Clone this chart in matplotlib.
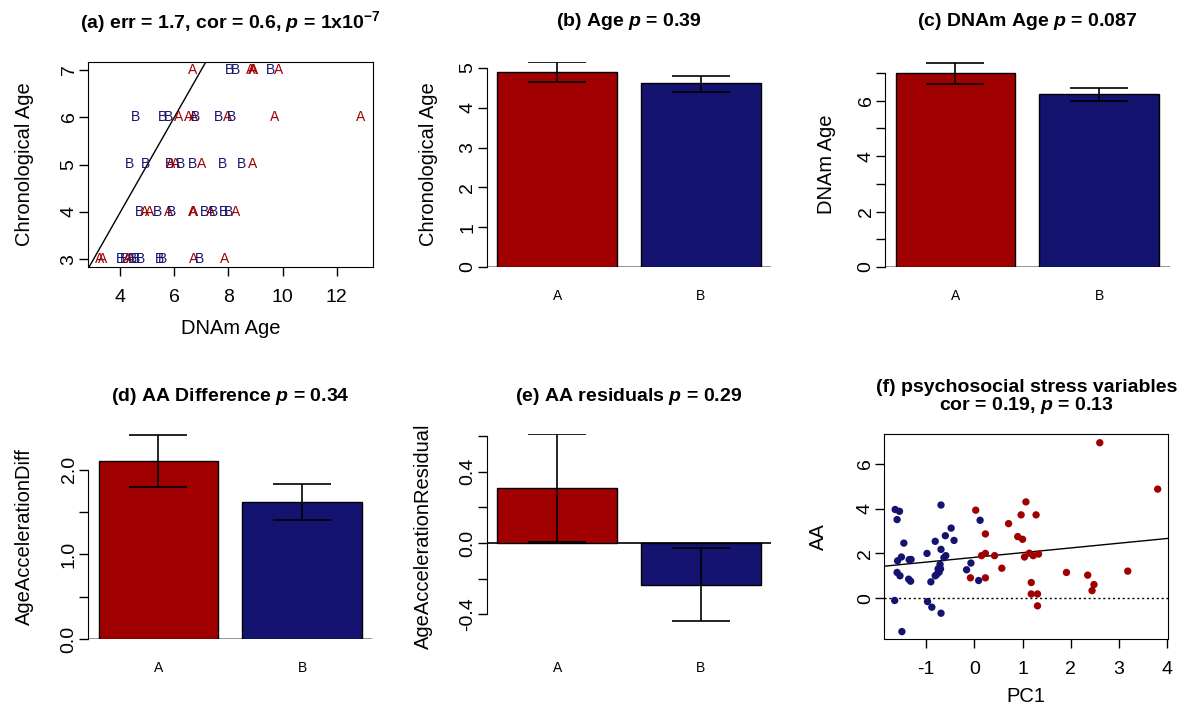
import matplotlib
matplotlib.use("Agg")
import matplotlib.pyplot as plt
import numpy as np

plt.rcParams["font.family"] = ["Liberation Sans", "DejaVu Sans"]
plt.rcParams["mathtext.fontset"] = "custom"
plt.rcParams["mathtext.rm"] = "Liberation Sans:bold"
plt.rcParams["mathtext.bf"] = "Liberation Sans:bold"
plt.rcParams["mathtext.it"] = "Liberation Sans:bold:italic"
plt.rcParams["axes.unicode_minus"] = False

RED = "#A00000"
BLUE = "#141470"

# ---- data ----
groups = ["A", "B"]

# (a) chronological age vs DNAm age, one letter per sample
dnam_age = [6.69, 8.05, 8.26, 8.83, 8.88, 8.93, 9.55, 9.85,
            4.54, 5.56, 5.78, 6.17, 6.54, 6.70, 6.79, 7.64, 7.95, 8.13, 9.69, 12.9,
            4.33, 4.91, 5.80, 5.87, 6.05, 6.23, 6.66, 7.00, 7.77, 8.48, 8.90,
            4.70, 4.90, 5.07, 5.37, 5.78, 5.90, 6.66, 6.72, 7.13, 7.34, 7.46, 7.83, 8.01, 8.26,
            3.23, 3.35, 4.02, 4.15, 4.28, 4.38, 4.45, 4.55, 4.76, 5.44, 5.56, 6.70, 6.93, 7.85]
chron_age = [7] * 8 + [6] * 12 + [5] * 11 + [4] * 14 + [3] * 14
group_a = list("ABBAAABA" "BBBAAABBABAA" "BBBAABBABBA" "BAABABAABABBBA" "AABBAABBBBBABA")

# bar panels: mean, lower, upper for A and B
age_mean = [4.90, 4.61]
age_lo = [4.64, 4.40]
age_hi = [5.14, 4.81]

dnam_mean = [7.00, 6.23]
dnam_lo = [6.62, 5.98]
dnam_hi = [7.38, 6.45]

aadiff_mean = [2.107, 1.62]
aadiff_lo = [1.80, 1.41]
aadiff_hi = [2.41, 1.83]

aares_mean = [0.307, -0.234]
aares_lo = [0.003, -0.436]
aares_hi = [0.61, -0.03]

# (f) AA vs PC1
pc1_b = [-1.64, -1.55, -1.60, -1.46, -1.59, -1.51, -1.60, -1.54, -1.35, -1.31,
         -1.36, -1.32, -1.65, -1.50, -0.98, -0.90, -0.97, -0.88, -0.69, -0.69,
         -0.81, -0.60, -0.48, -0.42, -0.69, -0.59, -0.63, -0.71, -0.75, -0.73,
         -0.78, -0.81, -0.70, -0.16, -0.07, 0.12, 0.09]
aa_b = [3.96, 3.88, 3.51, 2.46, 1.67, 1.84, 1.15, 1.00, 1.72, 1.73,
        0.85, 0.76, -0.10, -1.49, 2.00, 0.73, -0.15, -0.40, -0.67, 4.16,
        2.54, 2.79, 3.13, 2.58, 2.18, 1.90, 1.81, 1.51, 1.31, 1.16,
        1.06, 1.00, 1.31, 1.27, 1.57, 3.48, 0.79]
pc1_a = [0.03, -0.08, 0.15, 0.23, 0.23, 0.23, 0.42, 0.57, 0.71, 0.90,
         1.00, 0.97, 1.07, 1.28, 1.04, 1.14, 1.22, 1.33, 1.18, 1.18,
         1.31, 1.31, 1.91, 2.35, 2.48, 2.44, 2.60, 3.18, 3.80]
aa_a = [3.93, 0.91, 1.90, 2.00, 2.87, 0.91, 1.90, 1.34, 3.33, 2.75,
        2.63, 3.72, 4.30, 3.72, 1.84, 2.01, 1.90, 1.97, 0.70, 0.19,
        0.19, -0.34, 1.15, 1.03, 0.61, 0.34, 6.94, 1.21, 4.87]
fit_intercept = 1.823
fit_slope = 0.211

W, H = 1183, 713
fig = plt.figure(figsize=(W / 100, H / 100), dpi=100)


def add_ax(left, top, w=284.5, h=205):
    return fig.add_axes([left / W, 1 - (top + h) / H, w / W, h / H])


def style_ticks(ax):
    ax.tick_params(axis="both", direction="out", length=6.5, width=1, labelsize=14)
    ax.tick_params(axis="x", pad=9)
    ax.tick_params(axis="y", pad=1)
    for lab in ax.get_yticklabels():
        lab.set_rotation(90)
        lab.set_va("center")


def put_title(ax, text, dy=40, h=205):
    ax.text(0.5, 1 + dy / h, text, transform=ax.transAxes, ha="center", va="center",
            fontsize=14, fontweight="bold")


def put_ylabel(ax, text, xpx, w=284.5):
    ax.set_ylabel(text, fontsize=14.5)
    ax.yaxis.set_label_coords(xpx / w, 0.5)
    ax.yaxis.label.set_va("center")


def put_xlabel(ax, text, ypx, h=205):
    ax.set_xlabel(text, fontsize=14.5)
    ax.xaxis.set_label_coords(0.5, -ypx / h)
    ax.xaxis.label.set_va("center")


def bar_panel(ax, means, lo, hi, ylim, yticks, ylabels, zero_col):
    centers = [0.7, 1.9]
    cols = [RED, BLUE]
    ax.bar(centers, means, width=1.0, color=cols, edgecolor="black", linewidth=1, zorder=2)
    yerr = [np.array(means) - np.array(lo), np.array(hi) - np.array(means)]
    ax.errorbar(centers, means, yerr=yerr, fmt="none", ecolor="black", elinewidth=1.2,
                capsize=20.6, capthick=1.2, zorder=3)
    ax.axhline(0, color=zero_col, linewidth=1.2, zorder=1)
    ax.set_xlim(0.2 - 0.088, 2.4 + 0.088)
    ax.set_ylim(*ylim)
    ax.set_yticks(yticks)
    ax.set_yticklabels(ylabels)
    for s in ["top", "right", "bottom"]:
        ax.spines[s].set_visible(False)
    ax.spines["left"].set_bounds(yticks[0], yticks[-1])
    style_ticks(ax)
    ax.set_xticks(centers)
    ax.set_xticklabels(groups)
    ax.tick_params(axis="x", length=0, labelsize=10, pad=15.5)


# (a)
ax = add_ax(88, 62, w=285)
cols_a = [RED if g == "A" else BLUE for g in group_a]
for x, y, g, c in zip(dnam_age, chron_age, group_a, cols_a):
    ax.text(x, y, g, color=c, ha="center", va="center", fontsize=10)
ax.set_xlim(2.8, 13.35)
ax.set_ylim(2.84, 7.16)
ax.plot([0, 20], [0, 20], color="black", linewidth=1)
ax.set_xticks([4, 6, 8, 10, 12])
ax.set_yticks([3, 4, 5, 6, 7])
style_ticks(ax)
put_title(ax, r"(a) err = 1.7, cor = 0.6, $p$ = 1x10$^{-7}$")
put_ylabel(ax, "Chronological Age", -63, w=285)
put_xlabel(ax, "DNAm Age", 61)

# (b)
ax = add_ax(486.7, 62)
bar_panel(ax, age_mean, age_lo, age_hi, (0, 5.15), [0, 1, 2, 3, 4, 5],
          ["0", "1", "2", "3", "4", "5"], "grey")
put_title(ax, r"(b) Age $p$ = 0.39")
put_ylabel(ax, "Chronological Age", -58)

# (c)
ax = add_ax(885, 62)
bar_panel(ax, dnam_mean, dnam_lo, dnam_hi, (0, 7.4), [0, 1, 2, 3, 4, 5, 6, 7],
          ["0", "", "2", "", "4", "", "6", ""], "grey")
put_title(ax, r"(c) DNAm Age $p$ = 0.087")
put_ylabel(ax, "DNAm Age", -58)

# (d)
ax = add_ax(88, 434)
bar_panel(ax, aadiff_mean, aadiff_lo, aadiff_hi, (0, 2.42), [0, 0.5, 1.0, 1.5, 2.0],
          ["0.0", "", "1.0", "", "2.0"], "grey")
put_title(ax, r"(d) AA Difference $p$ = 0.34", dy=37)
put_ylabel(ax, "AgeAccelerationDiff", -64)

# (e)
ax = add_ax(486.7, 434)
bar_panel(ax, aares_mean, aares_lo, aares_hi, (-0.539, 0.612),
          [-0.4, -0.2, 0.0, 0.2, 0.4, 0.6], ["-0.4", "", "0.0", "", "0.4", ""], "black")
put_title(ax, r"(e) AA residuals $p$ = 0.29", dy=37)
put_ylabel(ax, "AgeAccelerationResidual", -63)

# (f)
ax = add_ax(884.3, 434, w=284)
ax.scatter(pc1_b, aa_b, s=28, color=BLUE, edgecolors="none", zorder=3)
ax.scatter(pc1_a, aa_a, s=28, color=RED, edgecolors="none", zorder=3)
ax.set_xlim(-1.865, 4.02)
ax.set_ylim(-1.82, 7.33)
xs = np.array(ax.get_xlim())
ax.plot(xs, fit_intercept + fit_slope * xs, color="black", linewidth=1)
ax.axhline(0, color="black", linewidth=1, linestyle=(0, (1.5, 2)))
ax.set_xticks([-1, 0, 1, 2, 3, 4])
ax.set_yticks([0, 2, 4, 6])
style_ticks(ax)
ax.text(0.5, 1 + 46 / 205, "(f) psychosocial stress variables", transform=ax.transAxes,
        ha="center", va="center", fontsize=14, fontweight="bold")
ax.text(0.5, 1 + 29 / 205, r"cor = 0.19, $p$ = 0.13", transform=ax.transAxes,
        ha="center", va="center", fontsize=14, fontweight="bold")
put_ylabel(ax, "AA", -66, w=284)
put_xlabel(ax, "PC1", 58)

fig.savefig("out.png", dpi=100)
